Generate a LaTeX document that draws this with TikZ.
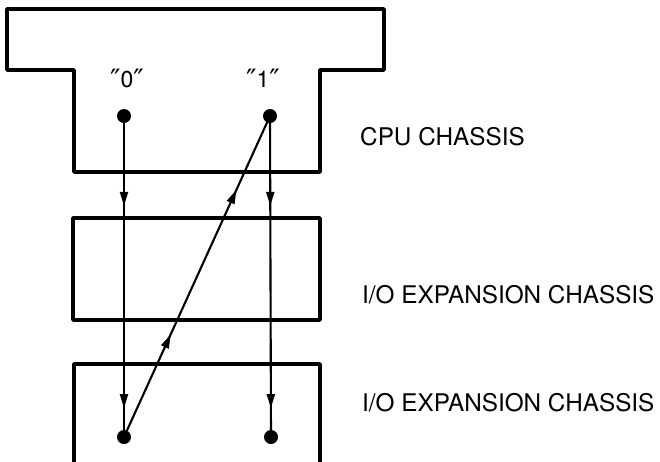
\documentclass[tikz,border=0pt]{standalone}
\usepackage{fontspec}
\setmainfont{TeX Gyre Heros}
\newfontfamily\dvfont{DejaVu Sans}
\newcommand{\dprime}{{\dvfont\fontsize{28}{28}\selectfont\raisebox{-1.5pt}{″}}}
\usetikzlibrary{arrows.meta,decorations.markings}
\tikzset{
  chassis/.style={line width=3.6pt, line join=round},
  dotnode/.style={circle, fill=black, inner sep=0pt, minimum size=14pt},
  label/.style={anchor=west, inner sep=0pt, font=\fontsize{24.3}{26}\selectfont},
  qlabel/.style={inner sep=0pt, font=\fontsize{23}{25}\selectfont},
  link/.style={line width=2.1pt, postaction={decorate}},
  marks/.style 2 args={decoration={markings,
      mark=at position #1 with {\arrow{Triangle[length=14pt,width=8pt]}},
      mark=at position #2 with {\arrow{Triangle[length=14pt,width=8pt]}}}}
}
\begin{document}
\begin{tikzpicture}[x=1pt,y=-1pt]
\useasboundingbox (0,0) rectangle (660,461);
% CPU chassis outline
\draw[chassis] (7,9) -- (384,9) -- (384,70) -- (320,70) -- (320,172)
  -- (74,172) -- (74,70) -- (7,70) -- cycle;
% first I/O expansion chassis
\draw[chassis] (73,218) rectangle (320,320);
% second I/O expansion chassis (open at bottom)
\draw[chassis] (74,464) -- (74,364) -- (320,364) -- (320,464);
% connection points
\node[dotnode] (c0) at (124,116) {};
\node[dotnode] (c1) at (270,116) {};
\node[dotnode] (b0) at (124,437) {};
\node[dotnode] (b1) at (271,437) {};
\node[qlabel] (q0) at (127,79) {\dprime0\dprime};
\node[qlabel] (q1) at (263,79) {\dprime1\dprime};
% connectors
\draw[link, marks={0.28}{0.91}] (c0.center) -- (b0.center);
\draw[link, marks={0.28}{0.91}] (c1.center) -- (b1.center);
\draw[link, marks={0.32}{0.77}] (b0.center) -- (c1.center);
% labels
\node[label] (l1) at (360,137) {CPU CHASSIS};
\node[label] (l2) at (362,295) {I/O EXPANSION CHASSIS};
\node[label] (l3) at (362,403) {I/O EXPANSION CHASSIS};
\end{tikzpicture}
\end{document}
